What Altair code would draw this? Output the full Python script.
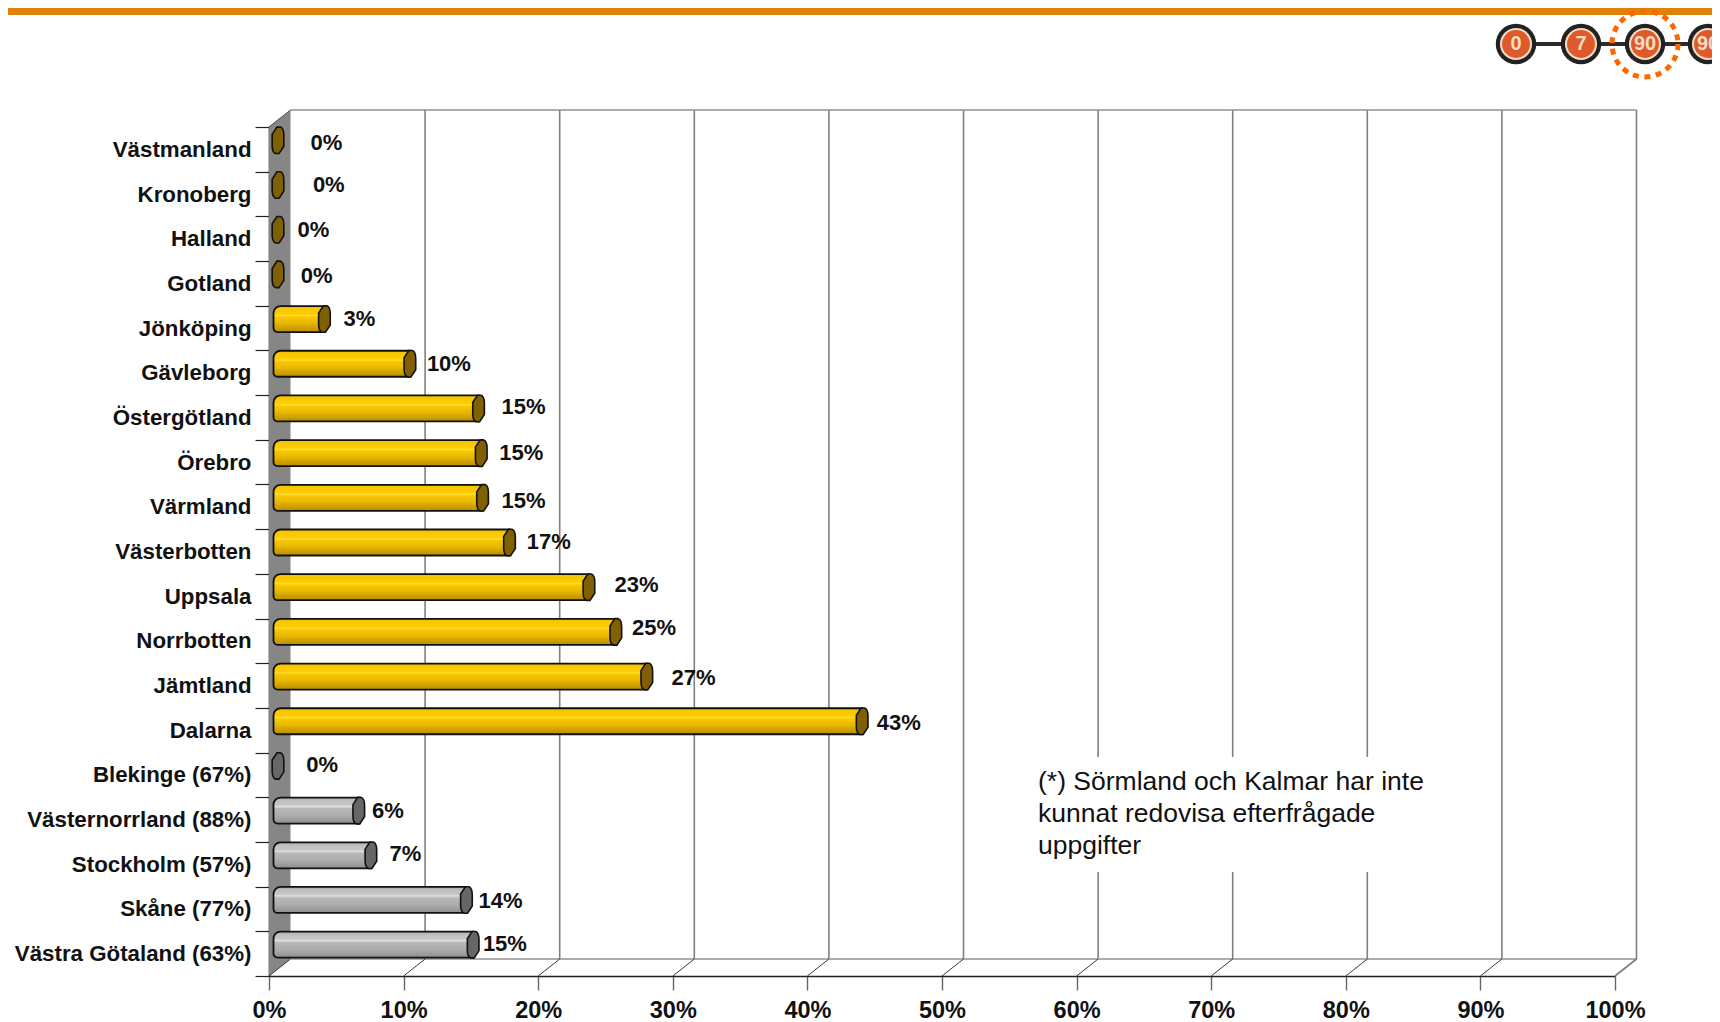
import altair as alt
import pandas as pd

# ---- values ----
categories = ["Västmanland", "Kronoberg", "Halland", "Gotland", "Jönköping", "Gävleborg",
              "Östergötland", "Örebro", "Värmland", "Västerbotten", "Uppsala", "Norrbotten",
              "Jämtland", "Dalarna", "Blekinge (67%)", "Västernorrland (88%)",
              "Stockholm (57%)", "Skåne (77%)", "Västra Götaland (63%)"]
values = [0, 0, 0, 0, 3.45, 9.8, 14.9, 15.1, 15.2, 17.2, 23.1, 25.1, 27.4, 43.4, 0, 6.0, 6.9, 14.0, 14.5]
labels = ["0%", "0%", "0%", "0%", "3%", "10%", "15%", "15%", "15%", "17%", "23%", "25%", "27%",
          "43%", "0%", "6%", "7%", "14%", "15%"]
groups = ["y"] * 14 + ["g"] * 5
label_pct = [3.09, 3.26, 2.12, 2.36, 5.54, 11.73, 17.27, 17.11, 17.27, 19.15, 25.67, 26.97,
             29.90, 45.15, 2.77, 7.66, 8.96, 15.56, 15.89]
label_row = [0.356, 1.289, 2.295, 3.326, 4.308, 5.315, 6.272, 7.304, 8.359, 9.292, 10.25,
             11.207, 12.337, 13.343, 14.276, 15.307, 16.265, 17.32, 18.278]
ticks = list(range(0, 101, 10))
note_lines = ["(*) Sörmland och Kalmar har inte", "kunnat redovisa efterfrågade", "uppgifter"]
steps = ["0", "7", "90", "90"]

W, H = 1346, 849
PL, PT = 261, 119
PR = 1704 - PL - W     # the page shrinks anything wider than 1704
DX = 21.5 / W * 100    # depth of the 3D box in axis units
DY = 17 / H * 19
FONT = "Liberation Sans"

df = pd.DataFrame({"cat": categories, "v": values, "lab": labels, "g": groups,
                   "lx": label_pct, "ly": label_row, "zero": 0})
grid = pd.DataFrame({"t": ticks})
grid["bx"] = grid.t + DX
grid["top"] = -DY
grid["floor"] = 19 - DY
grid["bottom"] = 19

xs = alt.Scale(domain=[0, 100])
rows = alt.Scale(domain=[0, 19], range=[0, H])
cats = alt.Scale(domain=categories, paddingInner=0, paddingOuter=0)


def X(f):
    return alt.X(f, type="quantitative", scale=xs, axis=None)


def R(f):
    return alt.Y(f, type="quantitative", scale=rows, axis=None)


def C():
    return alt.Y("cat:N", scale=cats, sort=categories, axis=None)


# side wall
wall_df = pd.DataFrame({"x": [0, DX], "y": [0, -DY], "y2": [19, 19 - DY]})
wall = alt.Chart(wall_df).mark_area(color="#868686", orient="vertical").encode(
    x=X("x"), y=R("y"), y2="y2")

# back-wall grid
back = alt.Chart(grid[grid.t > 0]).mark_rule(color="#808080", strokeWidth=1.6).encode(
    x=X("bx"), y=R("top"), y2="floor")
roof = alt.Chart(pd.DataFrame({"a": [DX], "b": [100 + DX], "y": [-DY]})).mark_rule(
    color="#909090", strokeWidth=1.6).encode(x=X("a"), x2="b", y=R("y"))
floor = alt.Chart(pd.DataFrame({"a": [DX], "b": [100 + DX], "y": [19 - DY]})).mark_rule(
    color="#909090", strokeWidth=1.6).encode(x=X("a"), x2="b", y=R("y"))
# slanted floor lines
slants = alt.Chart(grid).mark_rule(color="#3a3a3a", strokeWidth=1).encode(
    x=X("t"), x2="bx", y=R("bottom"), y2="floor")
slant_end = alt.Chart(grid[grid.t == 100]).mark_rule(color="#808080", strokeWidth=1.6).encode(
    x=X("t"), x2="bx", y=R("bottom"), y2="floor")
slant_top = alt.Chart(pd.DataFrame({"a": [0], "b": [DX], "y": [0], "y2": [-DY]})).mark_rule(
    color="#4a4a4a", strokeWidth=1).encode(x=X("a"), x2="b", y=R("y"), y2="y2")

# white box behind the note
note_box = alt.Chart(pd.DataFrame({"a": [1]})).mark_rect(color="white").encode(
    x=alt.value(1020 - 269), x2=alt.value(1448 - 269),
    y=alt.value(757 - 127), y2=alt.value(872 - 127))
note_ypx = [782 - 127, 814 - 127, 846 - 127]
note = alt.Chart(pd.DataFrame({"t": note_lines, "yy": note_ypx})).mark_text(
    align="left", baseline="middle", font=FONT, fontSize=26.5, color="#111111").encode(
    x=alt.value(1038 - 269),
    y=alt.Y("yy:Q", axis=None, scale=None),
    text="t:N")

# real axes
y_axis = alt.Chart(df).mark_rule(opacity=0).encode(
    y=alt.Y("cat:N", scale=cats, sort=categories, title=None, axis=alt.Axis(
        tickBand="extent", tickSize=14, tickColor="#222222", tickWidth=1.2,
        domainColor="#111111", domainWidth=1.6,
        labelFont=FONT, labelFontWeight="bold", labelFontSize=22.3, labelColor="#111111",
        labelPadding=4, labelLimit=300)))
x_axis = alt.Chart(grid).mark_rule(opacity=0).encode(
    x=alt.X("t:Q", scale=xs, title=None, axis=alt.Axis(
        values=ticks, labelExpr="datum.value + '%'", grid=False,
        tickSize=14, tickColor="#666666", tickWidth=1.4,
        domainColor="#222222", domainWidth=1.6,
        labelFont=FONT, labelFontWeight="bold", labelFontSize=23.5, labelColor="#111111",
        labelPadding=8, labelFlush=False, labelOverlap=False)))


def gradient(stops):
    return alt.LinearGradient(gradient="linear", x1=0, x2=0, y1=0, y2=1,
                              stops=[alt.GradientStop(offset=o, color=c) for o, c in stops])


yellow = gradient([(0, "#EDBE00"), (0.08, "#F7C600"), (0.3, "#FFCC00"), (0.36, "#FFDD33"),
                   (0.42, "#F9C800"), (0.65, "#E8B800"), (0.85, "#CC9E00"), (1, "#B88E00")])
silver = gradient([(0, "#A8A8A8"), (0.1, "#BEBEBE"), (0.28, "#C6C6C6"), (0.34, "#E0E0E0"),
                   (0.42, "#B8B8B8"), (0.7, "#ABABAB"), (0.88, "#9A9A9A"), (1, "#8A8A8A")])


def bars(group, fill):
    d = df[(df.g == group) & (df.v > 0)]
    return alt.Chart(d).mark_bar(
        fill=fill, stroke="#111111", strokeWidth=1.8, size=26, yOffset=-9,
        xOffset=4.5, x2Offset=9, cornerRadiusTopLeft=7, cornerRadiusBottomLeft=4
    ).encode(x=X("zero"), x2="v", y=C())


CAP = ("M -0.44 -0.45 L -0.08 -1 L 0.18 -1 Q 0.44 -0.9 0.44 -0.4 L 0.44 0.45 "
       "L 0.08 1 L -0.18 1 Q -0.44 0.9 -0.44 0.4 Z")


def caps(group, fill):
    d = df[df.g == group]
    return alt.Chart(d).mark_point(
        shape=CAP, size=700, filled=True, fill=fill, fillOpacity=1, stroke="#111111",
        strokeWidth=1.6, strokeOpacity=1, yOffset=-9, xOffset=9
    ).encode(x=X("v"), y=C())


data_labels = alt.Chart(df).mark_text(
    align="left", baseline="middle", font=FONT, fontWeight="bold", fontSize=22, color="#111111"
).encode(x=X("lx"), y=R("ly"), text="lab:N")

# page decoration in page position
strip = alt.Chart(pd.DataFrame({"a": [1]})).mark_rect(color="#DE8209").encode(
    x=alt.value(-PL), x2=alt.value(W + PR), y=alt.value(-PT), y2=alt.value(-PT + 7))

cx = [1516 - 269, 1581 - 269, 1645 - 269, 1708 - 269]
cy = 44 - 127
badge = pd.DataFrame({"s": steps, "cx": cx, "cy": cy})
link = alt.Chart(pd.DataFrame({"a": [1]})).mark_rule(color="#2b2b2b", strokeWidth=4).encode(
    x=alt.value(cx[0]), x2=alt.value(W + PR), y=alt.value(cy))


def PX(f):
    return alt.X(f, type="quantitative", scale=None, axis=None)


def PY(f):
    return alt.Y(f, type="quantitative", scale=None, axis=None)


def ring(size, **kw):
    return alt.Chart(badge).mark_point(size=size, shape="circle", opacity=1, **kw).encode(
        x=PX("cx"), y=PY("cy"))


outer = ring(1640, filled=True, color="#222222")
cream = ring(1030, filled=True, color="#F3DCC4")
disc = ring(780, filled=True, color="#E0592A")
texts = alt.Chart(badge).mark_text(font=FONT, fontWeight="bold", fontSize=20,
                                   color="#F3DCC4", baseline="middle", align="center").encode(
    x=PX("cx"), y=PY("cy"), text="s:N")
dotted = alt.Chart(badge.iloc[[2]]).mark_point(
    shape="circle", size=4356, filled=False, stroke="#FF6600", strokeWidth=5,
    strokeDash=[6, 5.6], opacity=1).encode(x=PX("cx"), y=PY("cy"))

chart = alt.layer(
    strip, wall, back, roof, floor, slants, slant_end, slant_top, note_box, note,
    y_axis, x_axis,
    bars("y", yellow), caps("y", "#806000"),
    bars("g", silver), caps("g", "#666666"),
    data_labels,
    link, outer, cream, disc, texts, dotted,
).resolve_scale(y="independent", x="independent").resolve_axis(y="independent", x="independent").properties(
    width=W, height=H,
    padding={"left": PL, "top": PT, "right": PR, "bottom": 46},
    autosize=alt.AutoSizeParams(type="none"),
    background="white",
).configure_view(stroke=None)

chart.save("out.html", embed_options={"renderer": "svg", "actions": False})
